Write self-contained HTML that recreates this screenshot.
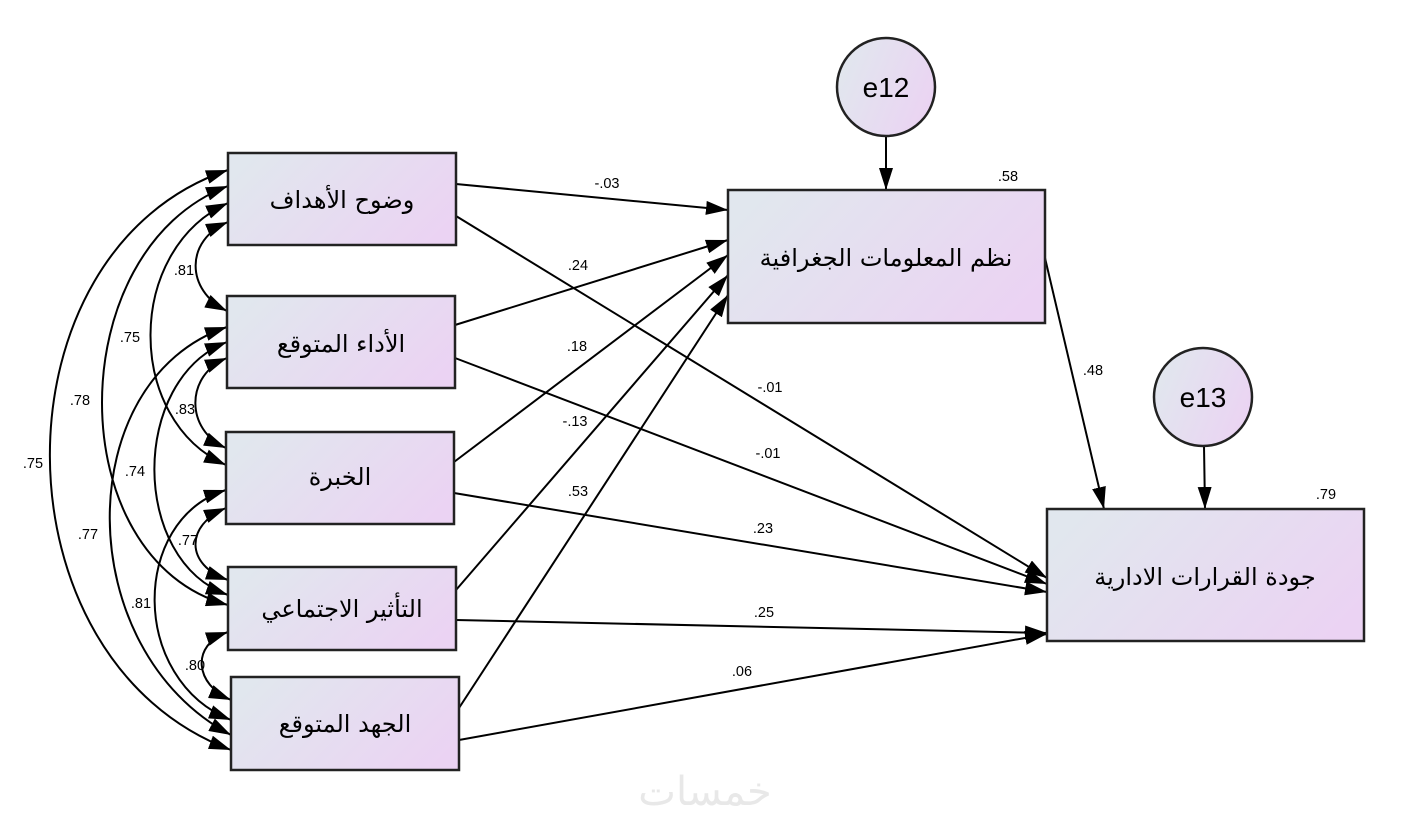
<!DOCTYPE html>
<html><head><meta charset="utf-8"><style>
html,body{margin:0;padding:0;background:#fff;}
svg{display:block;}
.n{font-family:"Liberation Sans",Arial,sans-serif;font-size:14.5px;fill:#000;}
.ar{font-family:"DejaVu Sans","Liberation Sans",sans-serif;font-size:24px;fill:#000;}
</style></head><body>
<svg width="1411" height="823" viewBox="0 0 1411 823" xmlns="http://www.w3.org/2000/svg">
<defs>
<linearGradient id="g" x1="0" y1="0.3" x2="1" y2="0.7">
<stop offset="0" stop-color="#e1e7ee"/><stop offset="1" stop-color="#ebd3f3"/>
</linearGradient>
<marker id="a" viewBox="0 0 22 14" refX="22" refY="7" markerWidth="22" markerHeight="14" markerUnits="userSpaceOnUse" orient="auto-start-reverse">
<path d="M0,0 L22,7 L0,14 z" fill="#000"/>
</marker>
</defs>
<g fill="none" stroke="#000" stroke-width="2" marker-start="url(#a)" marker-end="url(#a)">
<path d="M228,170 C-10,250 -10,660 231,750"/>
<path d="M228,186 C60,250 60,560 228,605"/>
<path d="M228,203 C125,250 125,420 226,465"/>
<path d="M228,222 C185,240 185,290 227,311"/>
<path d="M227,327 C70,380 70,650 231,735"/>
<path d="M227,342 C130,380 130,560 228,595"/>
<path d="M227,358 C185,375 185,430 226,448"/>
<path d="M226,490 C130,520 130,680 231,720"/>
<path d="M226,508 C185,525 185,565 228,580"/>
<path d="M228,632 C190,645 195,685 231,700"/>
</g>
<g fill="none" stroke="#000" stroke-width="2" marker-end="url(#a)">
<line x1="456" y1="184" x2="728" y2="210"/>
<line x1="456" y1="216" x2="1047" y2="578"/>
<line x1="455" y1="325" x2="728" y2="240"/>
<line x1="455" y1="358" x2="1047" y2="584"/>
<line x1="454" y1="462" x2="728" y2="255"/>
<line x1="454" y1="493" x2="1047" y2="592"/>
<line x1="456" y1="590" x2="728" y2="275"/>
<line x1="456" y1="620" x2="1047" y2="633"/>
<line x1="459" y1="708" x2="728" y2="295"/>
<line x1="459" y1="740" x2="1047" y2="634"/>
<line x1="1045" y1="258" x2="1104" y2="509"/>
<line x1="886" y1="136" x2="886" y2="190"/>
<line x1="1204" y1="446" x2="1205" y2="509"/>
</g>
<g fill="url(#g)" stroke="#222" stroke-width="2.5">
<rect x="228" y="153" width="228" height="92"/>
<rect x="227" y="296" width="228" height="92"/>
<rect x="226" y="432" width="228" height="92"/>
<rect x="228" y="567" width="228" height="83"/>
<rect x="231" y="677" width="228" height="93"/>
<rect x="728" y="190" width="317" height="133"/>
<rect x="1047" y="509" width="317" height="132"/>
<circle cx="886" cy="87" r="49"/>
<circle cx="1203" cy="397" r="49"/>
</g>
<g class="ar" text-anchor="middle" direction="rtl">
<text x="342" y="208">وضوح الأهداف</text>
<text x="341" y="352">الأداء المتوقع</text>
<text x="340" y="485">الخبرة</text>
<text x="342" y="617">التأثير الاجتماعي</text>
<text x="345" y="732">الجهد المتوقع</text>
<text x="886" y="266">نظم المعلومات الجغرافية</text>
<text x="1205" y="585">جودة القرارات الادارية</text>
</g>
<text x="886" y="97" text-anchor="middle" font-family="Liberation Sans,sans-serif" font-size="28">e12</text>
<text x="1203" y="407" text-anchor="middle" font-family="Liberation Sans,sans-serif" font-size="28">e13</text>
<g class="n" text-anchor="middle">
<text x="1008" y="181">.58</text>
<text x="1326" y="499">.79</text>
<text x="607" y="188">-.03</text>
<text x="578" y="270">.24</text>
<text x="577" y="351">.18</text>
<text x="575" y="426">-.13</text>
<text x="578" y="496">.53</text>
<text x="770" y="392">-.01</text>
<text x="768" y="458">-.01</text>
<text x="763" y="533">.23</text>
<text x="764" y="617">.25</text>
<text x="742" y="676">.06</text>
<text x="1093" y="375">.48</text>
<text x="184" y="275">.81</text>
<text x="130" y="342">.75</text>
<text x="80" y="405">.78</text>
<text x="33" y="468">.75</text>
<text x="185" y="414">.83</text>
<text x="135" y="476">.74</text>
<text x="88" y="539">.77</text>
<text x="188" y="545">.77</text>
<text x="141" y="608">.81</text>
<text x="195" y="670">.80</text>
</g>
<text x="705" y="805" text-anchor="middle" font-family="DejaVu Sans,sans-serif" font-size="40" fill="#e8e8e8">خمسات</text>
</svg>
</body></html>
